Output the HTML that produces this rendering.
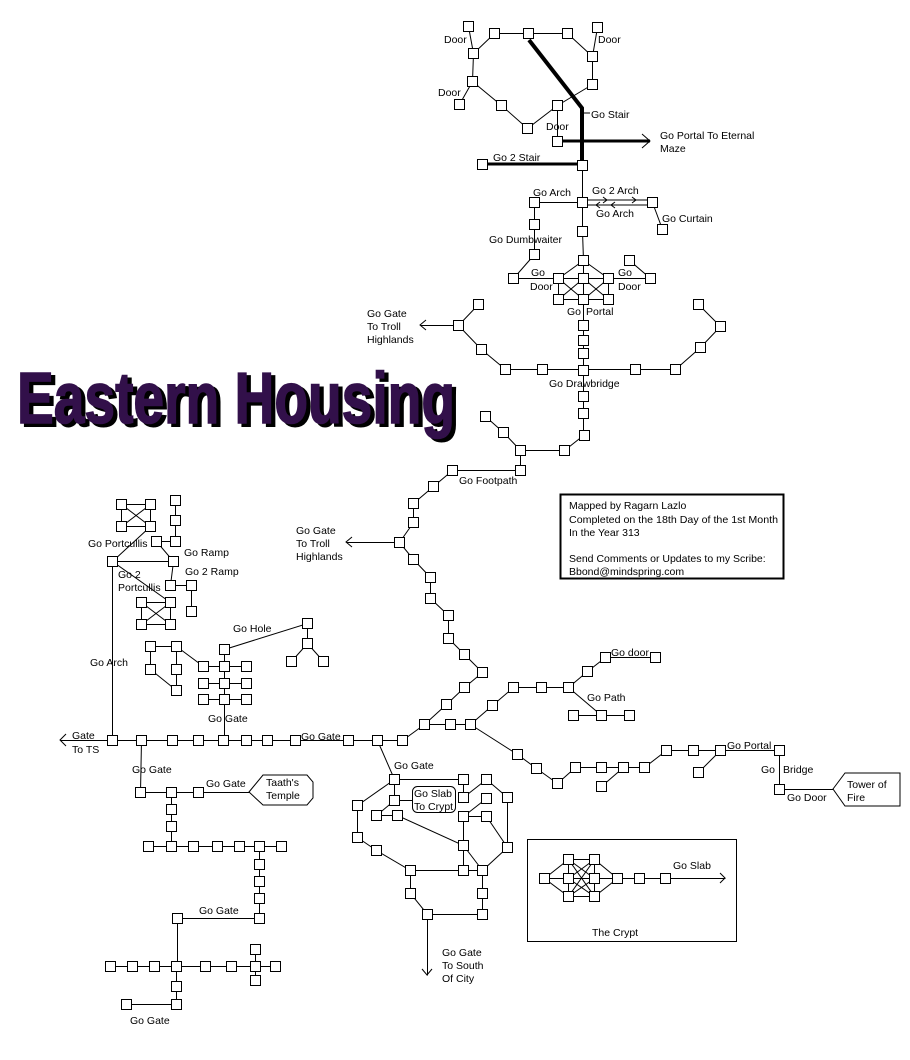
<!DOCTYPE html>
<html><head><meta charset="utf-8"><style>
html,body{margin:0;padding:0;background:#fff;}
svg{display:block;}
text{font-family:"Liberation Sans",sans-serif;font-size:10.5px;fill:#000;}
</style></head><body>
<svg id="s" width="910" height="1060" viewBox="0 0 910 1060" xmlns="http://www.w3.org/2000/svg">
<g id="edges" stroke="#000" stroke-width="1" fill="none"></g>
<g stroke="#000" fill="none">
<polyline points="529,40 582,108 582,165" stroke-width="4"/>
<line x1="562" y1="141" x2="650" y2="141" stroke-width="3"/>
<polyline points="642,134 650,141 642,148" stroke-width="1"/>
<line x1="482" y1="164" x2="582" y2="164" stroke-width="3"/>
<line x1="582" y1="113" x2="590" y2="113"/>
<line x1="587" y1="200" x2="652" y2="200"/>
<line x1="587" y1="205" x2="652" y2="205"/>
<polyline points="603,197 607,200 603,203"/><polyline points="632,197 636,200 632,203"/>
<polyline points="600,202 596,205 600,208"/><polyline points="615,202 611,205 615,208"/>
<polyline points="426,320 420,325 426,330"/>
<polyline points="352,537 346,542 352,547"/>
<polyline points="66,734 60,740 66,746"/>
<polyline points="422,969 427,975 432,969"/>
<polyline points="720,873 725,878 720,883"/>
<rect x="560.5" y="494.5" width="223" height="84" stroke-width="2"/>
<rect x="527.5" y="839.5" width="209" height="102"/>
<polygon points="249,792 263,775 307,775 313,782 313,798 307,805 263,805"/>
<polygon points="833,789 845,773 900,773 900,806 845,806"/>
<rect x="412.5" y="786.5" width="43" height="26" rx="5"/>
</g>
<g id="nodes" fill="#fff" stroke="#000" stroke-width="1"></g>

<text x="21" y="426" textLength="438" lengthAdjust="spacingAndGlyphs" style="font-size:72px;font-weight:bold;fill:#000;stroke:#000;stroke-width:2;font-family:'Liberation Sans Narrow','Liberation Sans',sans-serif">Eastern Housing</text>
<text x="17" y="423" textLength="438" lengthAdjust="spacingAndGlyphs" style="font-size:72px;font-weight:bold;fill:#32104a;stroke:#32104a;stroke-width:1.5;font-family:'Liberation Sans Narrow','Liberation Sans',sans-serif">Eastern Housing</text>

<text x="444" y="43">Door</text>
<text x="598" y="43">Door</text>
<text x="438" y="96">Door</text>
<text x="546" y="130">Door</text>
<text x="591" y="118">Go Stair</text>
<text x="660" y="139">Go Portal To Eternal</text>
<text x="660" y="152">Maze</text>
<text x="493" y="161">Go 2 Stair</text>
<text x="533" y="196">Go Arch</text>
<text x="592" y="194">Go 2 Arch</text>
<text x="596" y="217">Go Arch</text>
<text x="662" y="222">Go Curtain</text>
<text x="489" y="243">Go Dumbwaiter</text>
<text x="531" y="276">Go</text>
<text x="530" y="290">Door</text>
<text x="618" y="276">Go</text>
<text x="618" y="290">Door</text>
<text x="567" y="315">Go</text><text x="586" y="315">Portal</text>
<text x="367" y="317">Go Gate</text>
<text x="367" y="330">To Troll</text>
<text x="367" y="343">Highlands</text>
<text x="549" y="387">Go Drawbridge</text>
<text x="459" y="484">Go Footpath</text>
<text x="296" y="534">Go Gate</text>
<text x="296" y="547">To Troll</text>
<text x="296" y="560">Highlands</text>
<text x="88" y="547">Go Portcullis</text>
<text x="184" y="556">Go Ramp</text>
<text x="185" y="575">Go 2 Ramp</text>
<text x="118" y="578">Go 2</text>
<text x="118" y="591">Portcullis</text>
<text x="233" y="632">Go Hole</text>
<text x="90" y="666">Go Arch</text>
<text x="208" y="722">Go Gate</text>
<text x="301" y="740">Go Gate</text>
<text x="72" y="739">Gate</text>
<text x="72" y="753">To TS</text>
<text x="132" y="773">Go Gate</text>
<text x="206" y="787">Go Gate</text>
<text x="266" y="786">Taath's</text>
<text x="266" y="799">Temple</text>
<text x="394" y="769">Go Gate</text>
<text x="414" y="797">Go Slab</text>
<text x="414" y="810">To Crypt</text>
<text x="199" y="914">Go Gate</text>
<text x="130" y="1024">Go Gate</text>
<text x="442" y="956">Go Gate</text>
<text x="442" y="969">To South</text>
<text x="442" y="982">Of City</text>
<text x="611" y="656">Go door</text>
<text x="587" y="701">Go Path</text>
<text x="727" y="749">Go Portal</text>
<text x="761" y="773">Go</text><text x="783" y="773">Bridge</text>
<text x="787" y="801">Go Door</text>
<text x="847" y="788">Tower of</text>
<text x="847" y="801">Fire</text>
<text x="673" y="869">Go Slab</text>
<text x="592" y="936">The Crypt</text>
<text x="569" y="509">Mapped by Ragarn Lazlo</text>
<text x="569" y="523" textLength="209" lengthAdjust="spacingAndGlyphs">Completed on the 18th Day of the 1st Month</text>
<text x="569" y="536">In the Year 313</text>
<text x="569" y="562">Send Comments or Updates to my Scribe:</text>
<text x="569" y="575">Bbond@mindspring.com</text>
</svg>
<script>
var N=[[468,26],[494,33],[528,33],[567,33],[597,27],[473,53],[592,56],[472,81],[459,104],[592,84],[501,105],[527,128],[557,105],[557,141],[582,165],[482,164],
[582,202],[534,202],[652,202],[662,229],[582,231],[534,224],[534,254],[513,278],
[583,260],[558,278],[583,278],[608,278],[558,299],[583,299],[608,299],[650,278],[629,260],
[583,325],[583,340],[583,353],[583,370],[458,325],[478,304],[481,349],[505,369],[542,369],[635,369],[675,369],[700,347],[720,326],[698,304],
[583,396],[583,413],[584,435],[564,450],[520,450],[503,432],[485,416],[520,470],[452,470],[433,486],[413,503],[413,522],[399,542],[413,559],[430,577],[430,598],[448,615],[448,638],[464,654],[482,672],
[464,687],[446,704],[424,724],[450,724],[470,724],[402,740],[377,740],[348,740],[492,705],[513,687],[541,687],[568,687],[587,671],[605,657],[655,657],[601,715],[573,715],[629,715],
[517,754],[536,768],[557,783],[575,767],[601,767],[623,767],[644,767],[601,786],[666,750],[693,750],[720,750],[698,772],[779,750],[779,789],
[394,779],[463,779],[463,797],[394,800],[357,805],[357,837],[376,850],[410,870],[410,893],[427,914],[482,914],[482,893],[482,870],[463,870],[463,845],[463,816],[486,816],[486,798],[486,779],[507,797],[507,847],[376,815],[397,815],
[544,878],[568,859],[594,859],[568,878],[594,878],[568,896],[594,896],[617,878],[639,878],[665,878],
[121,504],[150,504],[121,526],[150,526],[175,500],[175,520],[175,541],[156,541],[112,561],[173,561],[170,585],[191,585],[191,611],[141,602],[170,602],[141,624],[170,624],
[150,646],[176,646],[150,669],[176,669],[176,690],[203,666],[224,649],[224,666],[246,666],[203,683],[224,683],[246,683],[203,699],[224,699],[246,699],[307,623],[307,643],[291,661],[323,661],
[112,740],[141,740],[172,740],[198,740],[223,740],[246,740],[267,740],[295,740],
[140,792],[171,792],[198,792],[171,809],[171,826],[148,846],[171,846],[193,846],[217,846],[239,846],[259,846],[281,846],[259,864],[259,881],[259,898],[259,918],[177,918],
[110,966],[132,966],[154,966],[176,966],[205,966],[231,966],[255,966],[275,966],[255,949],[255,980],[176,986],[176,1004],[126,1004]];
var E=[
[[468,26],[473,53],[494,33],[528,33],[567,33],[592,56],[597,27]],[[592,56],[592,84]],[[473,53],[472,81],[459,104]],[[472,81],[501,105],[527,128],[557,105],[592,84]],[[557,105],[557,141]],
[[582,165],[582,231],[583,260]],[[582,202],[534,202],[534,254],[513,278],[558,278]],[[652,202],[662,229]],
[[583,260],[558,278]],[[583,260],[608,278]],[[583,260],[583,370]],[[558,278],[608,278],[650,278],[629,260]],[[558,278],[558,299],[608,299],[608,278]],[[558,278],[583,299]],[[583,278],[558,299]],[[583,278],[608,299]],[[608,278],[583,299]],
[[420,325],[458,325],[478,304]],[[458,325],[481,349],[505,369],[675,369]],[[675,369],[700,347],[720,326],[698,304]],
[[583,370],[583,435],[564,450],[520,450],[503,432],[485,416]],[[520,450],[520,470],[452,470],[433,486],[413,503],[413,522],[399,542],[413,559],[430,577],[430,598],[448,615],[448,638],[464,654],[482,672],[464,687],[446,704],[424,724],[402,740]],[[346,542],[399,542]],
[[424,724],[470,724],[492,705],[513,687],[568,687],[587,671],[605,657],[655,657]],[[568,687],[601,715]],[[573,715],[629,715]],
[[470,724],[517,754],[536,768],[557,783],[575,767],[644,767],[666,750],[720,750],[779,750],[779,789],[833,789]],[[623,767],[601,786]],[[720,750],[698,772]],
[[60,740],[402,740]],[[377,740],[394,779],[463,779],[463,797]],[[394,779],[394,800],[412,800]],[[394,779],[357,805],[357,837],[376,850],[410,870],[463,870]],[[410,870],[410,893],[427,914],[482,914],[482,870],[463,845],[397,815],[376,815],[394,800]],[[482,870],[463,870],[463,816],[486,816],[507,847],[507,797],[486,779],[463,797]],[[463,816],[486,798]],[[507,847],[482,870]],[[427,914],[427,975]],
[[544,878],[568,859],[594,859],[617,878],[594,896],[568,896],[544,878],[725,878]],[[568,859],[568,896]],[[594,859],[594,896]],[[568,859],[594,896]],[[594,859],[568,896]],[[568,878],[617,878]],[[568,878],[594,859]],[[568,878],[594,896]],[[594,878],[568,859]],[[594,878],[568,896]],
[[121,504],[150,504],[150,526],[121,526],[121,504],[150,526]],[[150,504],[121,526]],[[150,526],[112,561],[173,561],[156,541],[175,541],[175,500]],[[173,561],[170,585],[191,585],[191,611]],[[112,561],[170,602]],[[141,602],[170,602],[170,624],[141,624],[141,602],[170,624]],[[170,602],[141,624]],[[112,561],[112,740]],
[[150,669],[150,646],[176,646],[176,690],[150,669]],[[176,646],[203,666],[246,666]],[[224,649],[224,740]],[[203,683],[246,683]],[[203,699],[246,699]],[[224,649],[307,623],[307,643],[291,661]],[[307,643],[323,661]],
[[141,740],[140,792],[249,792]],[[171,792],[171,846]],[[148,846],[281,846]],[[259,846],[259,918],[177,918],[177,966]],[[110,966],[275,966]],[[255,949],[255,980]],[[176,966],[176,1004],[126,1004]]
];
var ns="http://www.w3.org/2000/svg",ge=document.getElementById('edges'),gn=document.getElementById('nodes');
E.forEach(function(p){var l=document.createElementNS(ns,'polyline');l.setAttribute('points',p.map(function(q){return (q[0]+.5)+','+(q[1]+.5)}).join(' '));ge.appendChild(l);});
N.forEach(function(p){var r=document.createElementNS(ns,'rect');r.setAttribute('x',p[0]-4.5);r.setAttribute('y',p[1]-4.5);r.setAttribute('width',10);r.setAttribute('height',10);gn.appendChild(r);});
</script>
</body></html>
